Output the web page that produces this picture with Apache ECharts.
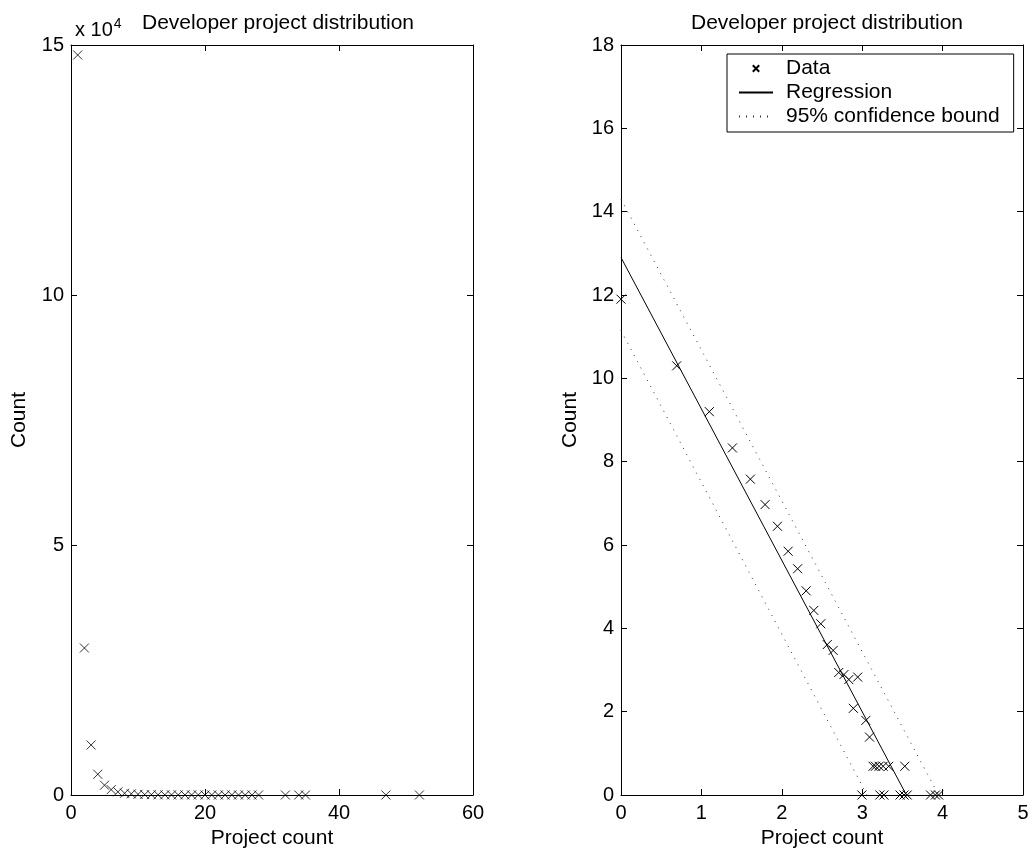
<!DOCTYPE html>
<html>
<head>
<meta charset="utf-8">
<script src="https://cdn.jsdelivr.net/npm/echarts@6/dist/echarts.min.js"></script>
<style>
html,body{margin:0;padding:0;background:#fff;}
#c{width:1035px;height:857px;}
</style>
</head>
<body>
<div id="c"></div>
<script>
// Left plot: project count vs number of developers
const leftProjectCount = [1,2,3,4,5,6,7,8,9,10,11,12,13,14,15,16,17,18,19,20,21,22,23,24,25,26,27,28,32,34,35,47,52];
const leftCount = [148000,29400,10000,4150,1960,1070,630,347,228,134,84,61,37,32,19,18,16,8,17,1,6,4,2,2,2,1,2,2,1,2,1,1,1];

// Right plot: log-log values
const rightX = [0,0.693,1.099,1.386,1.609,1.792,1.946,2.079,2.197,2.303,2.398,2.485,2.565,2.639,2.708,2.773,2.833,2.890,2.944,2.996,3.045,3.091,3.135,3.165,3.21,3.26,3.33,3.53,3.22,3.27,3.47,3.52,3.56,3.85,3.91,3.95];
const rightY = [11.9,10.3,9.2,8.33,7.58,6.97,6.45,5.85,5.43,4.90,4.43,4.11,3.61,3.47,2.94,2.89,2.77,2.08,2.83,0,1.79,1.39,0.69,0.69,0.69,0.69,0.69,0.69,0,0,0,0,0,0,0,0];

// Regression line and 95% confidence bounds (end points)
const regX = [0, 3.55];
const regY = [12.9, 0];
const upperX = [0, 3.95];
const upperY = [14.3, 0];
const lowerX = [0, 3.06];
const lowerY = [11.15, 0];

const xTicksLeft = {min:0, max:60, interval:20};
const yTicksLeft = {min:0, max:150000, interval:50000};
const xTicksRight = {min:0, max:5, interval:1};
const yTicksRight = {min:0, max:18, interval:2};

const FONT = 'Liberation Sans, Arial, sans-serif';
const TICK_FS = 20;
const TEXT_FS = 21;
const crossSym = 'path://M0,0L10,10M10,0L0,10';

function zip(a,b){return a.map((v,i)=>[v,b[i]]);}

function axisPair(kind, gridIndex, ticks, opts){
  const base = {
    type:'value', gridIndex, min:ticks.min, max:ticks.max, interval:ticks.interval,
    axisLine:{show:true, onZero:false, lineStyle:{color:'#000', width:1}},
    axisTick:{show:true, inside:true, length:6, lineStyle:{color:'#000'}},
    splitLine:{show:false},
  };
  const main = Object.assign({}, base, {
    position: kind==='x' ? 'bottom' : 'left',
    axisLabel:{show:true, color:'#000', fontSize:TICK_FS, fontFamily:FONT, margin:kind==='x'?8:7, formatter:opts.formatter},
    name:opts.name, nameLocation:'middle', nameGap:opts.nameGap,
    nameTextStyle:{color:'#000', fontSize:TEXT_FS, fontFamily:FONT},
  });
  const second = Object.assign({}, base, {
    position: kind==='x' ? 'top' : 'right',
    axisLabel:{show:false},
  });
  return [main, second];
}

const xAxes = [
  ...axisPair('x', 0, xTicksLeft, {name:'Project count', nameGap:32}),
  ...axisPair('x', 1, xTicksRight, {name:'Project count', nameGap:32}),
];
const yAxes = [
  ...axisPair('y', 0, yTicksLeft, {name:'Count', nameGap:41, formatter:v=>String(v/10000)}),
  ...axisPair('y', 1, yTicksRight, {name:'Count', nameGap:40}),
];

const chart = echarts.init(document.getElementById('c'), null, {renderer:'canvas'});
chart.setOption({
  backgroundColor:'#fff',
  animation:false,
  textStyle:{fontFamily:FONT},
  title:[
    {text:'Developer project distribution', left:273, top:8, textAlign:'center',
     textStyle:{fontSize:TEXT_FS, fontWeight:'normal', color:'#000', fontFamily:FONT}},
    {text:'Developer project distribution', left:822, top:8, textAlign:'center',
     textStyle:{fontSize:TEXT_FS, fontWeight:'normal', color:'#000', fontFamily:FONT}},
    {text:'x 10{sup|4}', left:70, top:12,
     textStyle:{fontSize:TICK_FS, fontWeight:'normal', color:'#000', fontFamily:FONT,
       rich:{sup:{fontSize:14, verticalAlign:'top', padding:[0,0,12,1], color:'#000', fontFamily:FONT}}}}
  ],
  grid:[
    {left:71, top:45, width:402, height:750, containLabel:false},
    {left:621, top:45, width:402, height:750, containLabel:false}
  ],
  legend:{
    left:727, top:54, orient:'vertical',
    backgroundColor:'#fff', borderColor:'#000', borderWidth:1, borderRadius:0,
    padding:[4,14,5,11], itemWidth:34, itemHeight:8, itemGap:3,
    textStyle:{color:'#000', fontSize:TEXT_FS, fontFamily:FONT, padding:[0,0,0,8]},
    data:['Data','Regression','95% confidence bound']
  },
  xAxis: xAxes,
  yAxis: yAxes,
  series:[
    {type:'scatter', xAxisIndex:0, yAxisIndex:0, data:zip(leftProjectCount,leftCount),
     symbol:crossSym, symbolSize:9, itemStyle:{color:'transparent', borderColor:'#000', borderWidth:1}},
    {name:'Data', type:'line', xAxisIndex:2, yAxisIndex:2, data:zip(rightX,rightY),
     symbol:crossSym, symbolSize:9, showAllSymbol:true, showSymbol:true,
     lineStyle:{width:0, opacity:0}, itemStyle:{color:'transparent', borderColor:'#000', borderWidth:1}},
    {name:'Regression', type:'line', xAxisIndex:2, yAxisIndex:2, data:zip(regX,regY),
     showSymbol:false, symbol:'none', lineStyle:{color:'#000', width:1},
     itemStyle:{color:'transparent', borderColor:'transparent'}},
    {name:'95% confidence bound', type:'line', xAxisIndex:2, yAxisIndex:2, data:zip(upperX,upperY),
     showSymbol:false, symbol:'none', lineStyle:{color:'#333', width:1, type:[1,6]},
     itemStyle:{color:'transparent', borderColor:'transparent'}},
    {name:'95% confidence bound', type:'line', xAxisIndex:2, yAxisIndex:2, data:zip(lowerX,lowerY),
     showSymbol:false, symbol:'none', lineStyle:{color:'#333', width:1, type:[1,6]},
     itemStyle:{color:'transparent', borderColor:'transparent'}}
  ]
});
</script>
</body>
</html>
